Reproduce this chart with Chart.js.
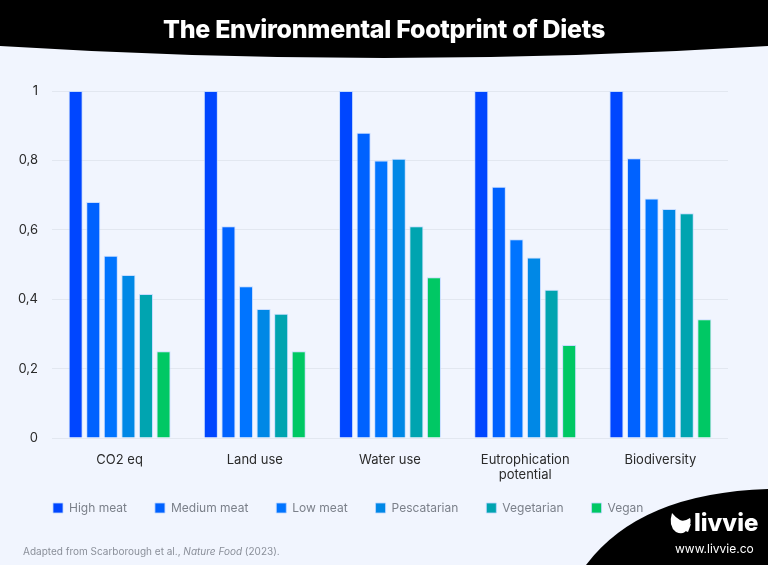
<!DOCTYPE html>
<html>
<head>
<meta charset="utf-8">
<script src="https://cdn.jsdelivr.net/npm/chart.js@4"></script>
<style>
  html, body { margin: 0; padding: 0; }
  body { width: 768px; height: 565px; position: relative; overflow: hidden; background: #f1f5fe; font-family: Inter, "Open Sans", sans-serif; }
  #wrap { position: absolute; left: 0; top: 0; width: 768px; height: 565px; }
  .title { position: absolute; left: 0; width: 768px; top: 14px; text-align: center; color: #fff; font-weight: 800; font-size: 25px; letter-spacing: -0.3px; }
  .note { position: absolute; left: 23px; top: 545px; font-size: 10px; color: #8a8f99; }
  .brand { position: absolute; left: 694px; top: 508px; color: #fff; font-weight: 800; font-size: 24px; }
  .url { position: absolute; left: 675px; top: 541px; color: #fff; font-size: 12px; }
</style>
</head>
<body>
<div id="wrap"><canvas id="chart" width="768" height="565"></canvas></div>
<div class="title">The Environmental Footprint of Diets</div>
<div class="note">Adapted from Scarborough et al., <i>Nature Food</i> (2023).</div>
<div class="brand">livvie</div>
<div class="url">www.livvie.co</div>
<script>
const categories = ['CO2 eq', 'Land use', 'Water use', ['Eutrophication', 'potential'], 'Biodiversity'];
const highMeat = [1, 1, 1, 1, 1];
const mediumMeat = [0.68, 0.61, 0.88, 0.724, 0.806];
const lowMeat = [0.525, 0.437, 0.80, 0.573, 0.69];
const pescatarian = [0.47, 0.372, 0.805, 0.52, 0.66];
const vegetarian = [0.415, 0.358, 0.61, 0.427, 0.648];
const vegan = [0.25, 0.25, 0.463, 0.268, 0.342];
const yTicks = [0, 0.2, 0.4, 0.6, 0.8, 1];

// background shapes: black header band, bottom-right corner, logo mark
const decor = {
  id: 'decor',
  beforeDraw(chart) {
    const c = chart.ctx;
    c.save();
    c.fillStyle = '#f1f5fe';
    c.fillRect(0, 0, chart.width, chart.height);
    c.fillStyle = '#000';
    c.beginPath();
    c.moveTo(0, 0); c.lineTo(768, 0); c.lineTo(768, 46);
    c.quadraticCurveTo(384, 70, 0, 46);
    c.closePath(); c.fill();
    c.beginPath();
    c.moveTo(586, 565); c.quadraticCurveTo(640, 493, 768, 489);
    c.lineTo(768, 565); c.closePath(); c.fill();
    // butterfly-ish logo mark
    c.fillStyle = '#fff';
    c.beginPath();
    c.moveTo(672, 513);
    c.quadraticCurveTo(668, 526, 676, 532);
    c.quadraticCurveTo(684, 536, 688, 528);
    c.quadraticCurveTo(692, 522, 690, 518);
    c.quadraticCurveTo(684, 522, 680, 520);
    c.quadraticCurveTo(676, 518, 672, 513);
    c.closePath(); c.fill();
    c.beginPath();
    c.moveTo(683, 530);
    c.quadraticCurveTo(686, 525, 691, 524);
    c.lineTo(688, 532); c.closePath(); c.fill();
    c.restore();
  }
};

// scales are squeezed to fit the layout, so let their labels draw outside the box
const noClip = (s, size) => {
  if (s.isHorizontal()) s.height = size; else s.width = size;
  s._computeLabelArea = () => undefined;
};

const colors = ['#0046ff', '#0062ff', '#0074ff', '#0088e6', '#00a4b0', '#00c864'];
const names = ['High meat', 'Medium meat', 'Low meat', 'Pescatarian', 'Vegetarian', 'Vegan'];
const series = [highMeat, mediumMeat, lowMeat, pescatarian, vegetarian, vegan];

new Chart(document.getElementById('chart'), {
  type: 'bar',
  data: {
    labels: categories,
    datasets: series.map((d, i) => ({
      label: names[i], data: d, backgroundColor: colors[i],
      borderColor: 'rgba(190,215,255,0.8)', borderWidth: 1,
      categoryPercentage: 0.78, barPercentage: 0.8
    }))
  },
  options: {
    responsive: false, animation: false,
    layout: { padding: { top: 91, left: 25, right: 40, bottom: 41 } },
    plugins: {
      tooltip: { enabled: false },
      legend: {
        position: 'bottom', align: 'start',
        labels: { boxWidth: 10, boxHeight: 10, padding: 28, color: '#7b808a', font: { family: 'Inter', size: 12 } }
      }
    },
    scales: {
      x: {
        grid: { display: false, drawTicks: false }, border: { display: false },
        ticks: { color: '#2a2a2a', font: { family: 'Inter', size: 13 }, padding: 14 },
        afterFit: s => noClip(s, 36)
      },
      y: {
        min: 0, max: 1,
        afterBuildTicks: s => { s.ticks = yTicks.map(v => ({ value: v })); },
        afterFit: s => noClip(s, 27),
        grid: { color: '#e2e7f0', drawTicks: false }, border: { display: false },
        ticks: { color: '#2a2a2a', font: { family: 'Inter', size: 13 }, padding: 14,
          callback: v => String(v).replace('.', ',') }
      }
    }
  },
  plugins: [decor]
});
</script>
</body>
</html>
